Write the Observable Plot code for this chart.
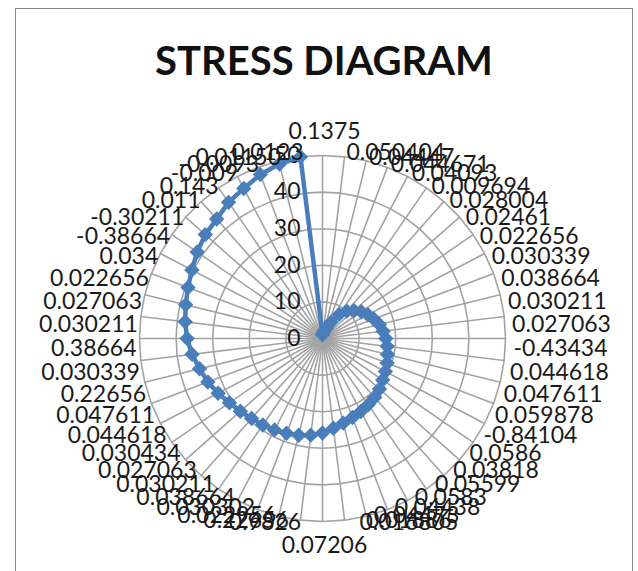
<!DOCTYPE html>
<html><head><meta charset="utf-8">
<script src="https://cdn.jsdelivr.net/npm/d3@7"></script>
<script src="https://cdn.jsdelivr.net/npm/@observablehq/plot@0.6"></script>
<style>
body{margin:0;background:#fff;}
#wrap{position:relative;width:638px;height:571px;overflow:hidden;font-family:Lato,sans-serif;}
#frame{position:absolute;left:15px;top:8px;width:616px;height:620px;border:1px solid #868686;}
#title{position:absolute;left:0;width:648px;top:36px;text-align:center;font:bold 40px Lato,sans-serif;color:#111;}
#chart{position:absolute;left:0;top:0;}
</style></head><body>
<div id="wrap"><div id="frame"></div><div id="title">STRESS DIAGRAM</div><div id="chart"></div></div>
<script>
const categories = ["0.1375","0.050404","0.04447","0.044671","0.04093","0.009694","0.028004","0.02461","0.022656","0.030339","0.038664","0.030211","0.027063","-0.43434","0.044618","0.047611","0.059878","-0.84104","0.0586","0.03818","0.05599","0.0583","0.04438","0.04473","0.01886","0.016805","0.07206","0.9826","0.22656","0.022956","0.030302","0.038664","0.030211","0.027063","0.030434","0.044618","0.047611","0.22656","0.030339","0.38664","0.030211","0.027063","0.022656","0.034","-0.38664","-0.30211","0.011","0.143","-0.009","-0.0093","0.01150","0.0123"];
const stress = [1.0,1.5,2.2,3.0,5.0,8.0,10.0,11.5,12.9,14.0,15.0,16.0,16.7,17.3,17.8,18.3,18.9,19.4,20.0,20.8,21.5,22.0,22.5,23.1,23.8,24.7,25.8,26.6,27.2,27.7,28.2,28.7,29.2,30.0,30.9,32.2,33.5,34.6,35.9,37.0,37.8,38.5,39.3,40.3,41.6,42.8,43.6,45.2,46.3,47.9,49.1,50.0];
const ringValues = [0,10,20,30,40,50];
const axisMax = 50;

const N = categories.length;
const k = 3.66; // px per unit
const cx = 322, cy = 338, W = 638, H = 571;
const Rx = 190 / k, Ry = 197 / k;
const rows = categories.map((label, i) => {
  const deg = (i * 360) / N;
  const a = (deg * Math.PI) / 180;
  const sin = Math.sin(a), cos = Math.cos(a);
  // label placement, mimicking the spreadsheet's layout of category labels
  let off = 10, sh = 0;
  if (i === 0) off = -10;
  else if (Math.abs(deg - 180) < 1e-6) off = 10;
  else if (cos < -1e-9) {
    const d = deg < 180 ? deg - 90 : 270 - deg;
    off = Math.min(10, 13.5 - 0.3 * d);
    sh = d <= 70 ? Math.min(0.3 * d, 17) : 17 - (d - 70) * (deg < 180 ? 2.3 : 1.5);
  }
  const lx = Rx * sin + (sin > 1e-6 ? (-3 - sh) : sin < -1e-6 ? sh : 0) / k;
  return {i, label, value: stress[i], sin, cos, lx, ly: Ry * cos - off / k};
});
const ringPts = ringValues.flatMap(r => rows.concat([rows[0]]).map(d => ({r, x: r * d.sin, y: r * d.cos})));
const seriesPts = rows.concat([rows[0]]);
const eps = 1e-6;
const right = rows.filter(d => d.sin > eps);
const left = rows.filter(d => d.sin < -eps);
const mid = rows.filter(d => Math.abs(d.sin) <= eps);
const fs = 23;
const blue = "#4a7ebb";
const grid = "#a3a3a3";
const ink = "#1a1a1a";

const chart = Plot.plot({
  width: W, height: H, margin: 0,
  x: {domain: [-cx / k, (W - cx) / k], axis: null},
  y: {domain: [(cy - H) / k, cy / k], axis: null},
  style: {fontFamily: "Lato, sans-serif", background: "transparent", overflow: "visible"},
  marks: [
    Plot.line(ringPts, {x: "x", y: "y", z: "r", stroke: grid, strokeWidth: 1.6}),
    Plot.link(rows, {x1: 0, y1: 0, x2: d => axisMax * d.sin, y2: d => axisMax * d.cos, stroke: grid, strokeWidth: 1.6}),
    Plot.text(ringValues, {x: 0, y: d => d, text: d => String(d), textAnchor: "end", dx: -22, fontSize: fs, fill: ink}),
    Plot.line(seriesPts, {x: d => d.value * d.sin, y: d => d.value * d.cos, stroke: blue, strokeWidth: 4.5, strokeLinejoin: "round"}),
    Plot.dot(rows, {x: d => d.value * d.sin, y: d => d.value * d.cos, symbol: "diamond2", r: 6, fill: blue, stroke: blue}),
    Plot.text(right, {x: "lx", y: "ly", text: "label", textAnchor: "start", dx: 4, fontSize: fs, fill: ink}),
    Plot.text(left, {x: "lx", y: "ly", text: "label", textAnchor: "end", dx: 4, fontSize: fs, fill: ink}),
    Plot.text(mid, {x: 0, y: "ly", text: "label", textAnchor: "middle", dx: 2, fontSize: fs, fill: ink})
  ]
});
document.getElementById("chart").appendChild(chart);
</script>
</body></html>
